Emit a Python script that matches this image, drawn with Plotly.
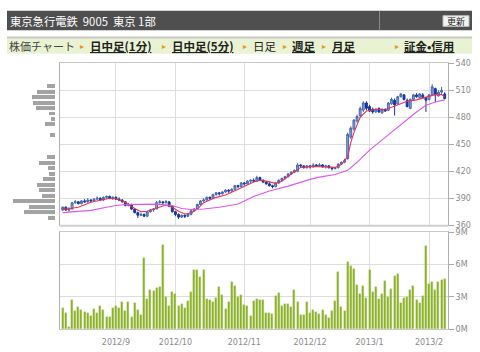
import plotly.graph_objects as go

W, H = 480, 352

# ---------------- data ----------------
day_index = list(range(123))  # trading days 2012/8/9 .. 2013/2/8
month_ticks = [17, 36, 58, 79, 98, 117]
month_labels = ['2012/9', '2012/10', '2012/11', '2012/12', '2013/1', '2013/2']

open_ = [377, 380, 377, 378, 385, 386, 384, 387, 386, 388, 387, 389, 390, 388, 391, 392, 390, 391, 389, 388,
         386, 382, 383, 378, 374, 371, 372, 370, 375, 377, 378, 385, 386, 385, 386, 381, 375, 372, 369, 371,
         370, 372, 376, 378, 383, 387, 388, 391, 390, 394, 396, 395, 397, 399, 398, 400, 404, 403, 407, 406,
         409, 410, 409, 413, 410, 408, 406, 404, 403, 407, 410, 412, 414, 417, 419, 420, 427, 426, 424, 426,
         425, 427, 426, 427, 425, 426, 424, 423, 424, 428, 430, 434, 458, 467, 476, 482, 488, 496, 492, 489,
         486, 490, 485, 489, 488, 495, 499, 495, 503, 505, 499, 490, 500, 505, 502, 505, 502, 500, 505, 512,
         504, 508, 506]
high = [381, 381, 380, 386, 388, 387, 388, 389, 390, 389, 390, 392, 391, 392, 393, 393, 392, 392, 391, 389,
        387, 385, 384, 379, 375, 374, 373, 376, 378, 379, 387, 388, 387, 388, 387, 382, 376, 373, 372, 372,
        373, 377, 379, 384, 388, 390, 392, 392, 395, 397, 397, 398, 400, 400, 401, 405, 405, 408, 408, 410,
        411, 412, 415, 414, 411, 409, 408, 405, 408, 411, 413, 415, 418, 420, 422, 429, 428, 427, 427, 427,
        429, 428, 429, 428, 427, 427, 425, 425, 429, 431, 434, 463, 470, 478, 483, 492, 498, 498, 494, 491,
        490, 491, 490, 490, 497, 502, 501, 504, 507, 506, 501, 501, 506, 507, 507, 507, 503, 506, 517, 513,
        510, 514, 508]
low = [376, 376, 375, 378, 384, 383, 383, 385, 385, 386, 386, 388, 387, 387, 389, 389, 388, 388, 387, 385,
       381, 381, 377, 373, 368, 370, 369, 369, 374, 375, 378, 384, 383, 384, 380, 374, 370, 367, 368, 368,
       369, 371, 375, 377, 382, 386, 387, 388, 389, 393, 393, 394, 396, 396, 397, 399, 401, 402, 404, 405,
       407, 408, 408, 409, 407, 405, 403, 401, 402, 406, 409, 411, 413, 416, 418, 419, 424, 423, 423, 423,
       424, 425, 425, 424, 423, 423, 421, 422, 423, 427, 429, 433, 456, 465, 474, 480, 486, 488, 486, 484,
       485, 485, 484, 486, 487, 494, 482, 494, 502, 499, 491, 489, 499, 502, 501, 501, 486, 499, 504, 497,
       503, 506, 500]
close = [380, 377, 378, 385, 386, 384, 387, 386, 388, 387, 389, 390, 388, 391, 392, 390, 391, 389, 388, 386,
         382, 383, 378, 374, 371, 372, 370, 375, 377, 378, 385, 386, 385, 386, 381, 375, 372, 369, 371, 370,
         372, 376, 378, 383, 387, 388, 391, 390, 394, 396, 395, 397, 399, 398, 400, 404, 403, 407, 406, 409,
         410, 409, 413, 410, 408, 406, 404, 403, 407, 410, 412, 414, 417, 419, 421, 427, 426, 424, 426, 425,
         427, 426, 427, 425, 426, 424, 423, 424, 428, 430, 432, 461, 468, 477, 481, 490, 496, 490, 487, 486,
         489, 486, 489, 487, 496, 500, 494, 503, 506, 500, 492, 500, 505, 503, 506, 502, 499, 505, 514, 505,
         508, 510, 501]

volume_m = [1.95, 1.53, 0.27, 2.76, 1.74, 2.04, 1.77, 1.62, 1.53, 1.26, 1.89, 1.53, 2.16, 1.80, 1.14, 1.17,
            1.95, 2.16, 1.98, 2.49, 1.68, 2.55, 1.14, 2.43, 1.80, 1.38, 6.57, 2.85, 3.66, 3.54, 3.81, 3.93,
            7.80, 3.00, 2.13, 3.42, 3.24, 2.19, 2.37, 1.98, 2.61, 3.48, 5.52, 5.52, 4.86, 5.52, 2.85, 2.70,
            2.58, 2.91, 3.96, 3.18, 1.89, 2.55, 4.38, 3.99, 3.00, 3.18, 2.22, 2.19, 1.20, 2.61,
            2.79, 2.73, 2.70, 1.50, 1.50, 1.44, 3.12, 3.39, 2.19, 2.37, 2.37, 2.07, 3.63, 2.58, 1.38, 1.32,
            2.49, 1.50, 1.83, 1.62, 1.44, 1.83, 1.38, 1.08, 1.74, 2.61, 5.28, 2.04, 1.74, 6.27, 5.82, 5.58,
            4.14, 3.30, 4.02, 2.94, 5.52, 3.42, 3.93, 2.85, 3.24, 4.47, 3.03, 3.75, 4.98, 5.10, 2.43, 2.94,
            3.03, 3.60, 3.99, 2.76, 2.43, 3.12, 7.74, 4.23, 4.41, 3.66, 4.41, 4.53, 4.65]

ma_short_x = [0, 5, 9, 12, 15, 17, 20, 23, 25, 27, 30, 33, 35, 37, 39, 41, 43, 45, 49, 52, 55, 58, 61, 63,
              65, 68, 70, 72, 74, 76, 79, 82, 84, 87, 89, 91, 92, 93, 95, 97, 100, 103, 106, 110, 113,
              116, 119, 121, 122]
ma_short_y = [377.5, 380, 385.5, 388, 390, 389.5, 385.5, 378.5, 375, 375.5, 379, 382.5, 380, 375.5, 372.5,
              373.5, 378, 385, 391, 393.5, 398.3, 403, 408, 410, 409, 406.6, 409, 414.5, 419.5, 424.3, 425.4,
              425.4, 424.7, 424.3, 427.5, 436, 452, 463, 480, 487, 489, 488.4, 492.7, 498, 499.5, 502, 505.3,
              505.5, 503]

ma_long_x = [0, 5, 9, 14, 17, 20, 25, 30, 35, 38, 41, 45, 50, 56, 58, 61, 66, 72, 79, 82, 87, 91, 94, 98,
             102, 108, 113, 116, 119, 122]
ma_long_y = [374, 375, 376.5, 380, 382, 383, 383.2, 383.5, 382, 378.5, 377.5, 378, 380, 383.5, 387, 392,
             398, 403.5, 411, 413.5, 416.5, 421, 430, 443.5, 455, 472, 486, 493.5, 497, 499.5]

# volume-by-price profile (price level, relative amount)
vbp_price = [514.3, 508.2, 502.1, 496.0, 489.9, 483.8, 477.7, 471.6, 459.4, 435.0, 428.9, 422.8, 416.7,
             410.6, 404.5, 398.4, 392.3, 386.2, 380.1, 374.0, 367.9]
vbp_amount = [8, 18, 23, 22, 19, 6, 4, 10, 5, 8, 16, 7, 6, 12, 18, 16, 13, 42, 26, 31, 7]


def X(px):
    return px / W


def Y(py):
    return 1 - py / H


fig = go.Figure()

fig.add_trace(go.Bar(y=vbp_price, x=vbp_amount, orientation='h', width=4.4,
                     marker=dict(color='#a3a3a3', line=dict(width=0)),
                     xaxis='x3', yaxis='y3', hoverinfo='skip'))

fig.add_trace(go.Candlestick(x=day_index, open=open_, high=high, low=low, close=close,
                             increasing=dict(line=dict(color='#4566b2', width=1), fillcolor='#8fa6d4'),
                             decreasing=dict(line=dict(color='#17369a', width=1), fillcolor='#17369a'),
                             xaxis='x', yaxis='y', hoverinfo='skip'))

fig.add_trace(go.Scatter(x=ma_short_x, y=ma_short_y, mode='lines', line=dict(color='#e8325a', width=1.1),
                         xaxis='x', yaxis='y', hoverinfo='skip'))
fig.add_trace(go.Scatter(x=ma_long_x, y=ma_long_y, mode='lines', line=dict(color='#df55f0', width=1.1),
                         xaxis='x', yaxis='y', hoverinfo='skip'))

fig.add_trace(go.Bar(x=day_index, y=volume_m, width=0.64,
                     marker=dict(color='#86ad25', line=dict(color='#c0da7a', width=0.4)),
                     xaxis='x2', yaxis='y2', hoverinfo='skip'))

tickfont = dict(family='DejaVu Sans, Verdana, sans-serif', size=8, color='#8a8a8a')
xr = [-0.86, 123.05]
grid = '#dddddd'
border = '#c8c8c8'

fig.update_layout(
    width=W, height=H, margin=dict(l=0, r=0, t=0, b=0, pad=0),
    paper_bgcolor='white', plot_bgcolor='white', showlegend=False, bargap=0, boxgap=0.15,
    xaxis=dict(domain=[X(60), X(448)], range=xr, tickvals=month_ticks, showticklabels=False,
               showgrid=True, gridcolor=grid, zeroline=False, showline=True, linecolor=border,
               mirror=True, linewidth=1, rangeslider=dict(visible=False), anchor='y', fixedrange=True),
    yaxis=dict(domain=[Y(227), Y(61)], range=[360, 540], tickvals=[360, 390, 420, 450, 480, 510, 540],
               side='right', ticks='outside', ticklen=5, tickcolor='#aaaaaa', tickfont=tickfont,
               showgrid=True, gridcolor=grid, zeroline=False, showline=True, linecolor='#b0b0b0',
               mirror=True, anchor='x', fixedrange=True),
    xaxis2=dict(domain=[X(60), X(448)], range=xr, tickvals=month_ticks, ticktext=month_labels,
                tickfont=tickfont, showgrid=True, gridcolor=grid, zeroline=False, showline=True,
                linecolor=border, mirror=True, anchor='y2', fixedrange=True, ticklabelstandoff=5),
    yaxis2=dict(domain=[Y(334), Y(234)], range=[0, 9], tickvals=[0, 3, 6, 9],
                ticktext=['0M', '3M', '6M', '9M'], side='right', ticks='outside', ticklen=5,
                tickcolor='#aaaaaa', tickfont=tickfont, showgrid=True, gridcolor=grid, zeroline=False,
                showline=True, linecolor='#b0b0b0', mirror=True, anchor='x2', fixedrange=True),
    xaxis3=dict(domain=[X(10), X(55)], range=[45, 0], visible=False, anchor='y3', fixedrange=True),
    yaxis3=dict(domain=[Y(227), Y(61)], range=[360, 540], visible=False, anchor='x3', fixedrange=True),
)

shapes = []
annotations = []
# header bar
shapes.append(dict(type='rect', xref='paper', yref='paper', x0=X(7), x1=X(472), y0=Y(27), y1=Y(7),
                   fillcolor='#4f4f4f', line=dict(width=0), layer='below'))
shapes.append(dict(type='line', xref='paper', yref='paper', x0=X(379.5), x1=X(379.5), y0=Y(27), y1=Y(7),
                   line=dict(color='#8a8a8a', width=1)))
shapes.append(dict(type='rect', xref='paper', yref='paper', x0=X(443), x1=X(469), y0=Y(23), y1=Y(12),
                   fillcolor='#f2f2f2', line=dict(color='#bbbbbb', width=1)))
# nav bar
shapes.append(dict(type='rect', xref='paper', yref='paper', x0=X(7), x1=X(472), y0=Y(51), y1=Y(35),
                   fillcolor='#e9f3d3', line=dict(width=0), layer='below'))
shapes.append(dict(type='line', xref='paper', yref='paper', x0=X(7), x1=X(472), y0=Y(34.5), y1=Y(34.5),
                   line=dict(color='#c8c8c8', width=2)))
# thicker separator under price panel
shapes.append(dict(type='line', xref='paper', yref='paper', x0=X(60), x1=X(448), y0=Y(227.5), y1=Y(227.5),
                   line=dict(color='#d0d0d0', width=2)))

jp = 'Noto Sans CJK JP, sans-serif'


def text(px, py, s, size, color, anchor='left'):
    annotations.append(dict(xref='paper', yref='paper', x=X(px), y=Y(py), text=s, showarrow=False,
                            xanchor=anchor, yanchor='middle', font=dict(family=jp, size=size, color=color)))


text(8, 17.5, '東京急行電鉄  9005  東京 1部', 11.3, '#ffffff')
text(456, 17.8, '更新', 9, '#222222', 'center')
text(7, 43, '株価チャート', 11, '#444444')
nav = [(82, 89, '<b><u>日中足(1分)</u></b>'), (164, 171, '<b><u>日中足(5分)</u></b>'),
       (245, 252, '日足'), (285, 291, '<b><u>週足</u></b>'), (324, 331, '<b><u>月足</u></b>'),
       (397, 403, '<b><u>証金•信用</u></b>')]
for ax, tx, s in nav:
    text(ax, 43, '▸', 8, '#e39a1c', 'center')
    text(tx - 1, 43, s, 11.5, '#222222')

fig.update_layout(shapes=shapes, annotations=annotations)
fig.write_html('out.html')
